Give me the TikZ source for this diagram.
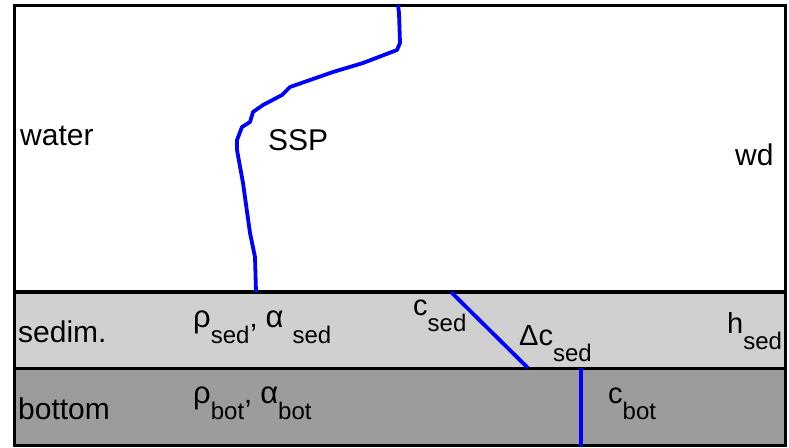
\documentclass[tikz,border=0pt]{standalone}
\usepackage{fontspec}
\setmainfont{Liberation Sans}
\newcommand\lsub[1]{\raisebox{-16pt}{\fontsize{24}{24}\selectfont #1}}
\newcommand\grk[1]{{\fontsize{31}{32}\selectfont #1}}
\definecolor{sedgray}{HTML}{D0D0D0}
\definecolor{botgray}{HTML}{9C9C9C}
\begin{document}
\begin{tikzpicture}[x=1pt,y=-1pt,
  lbl/.style={anchor=base west,inner sep=0pt,font=\fontsize{30}{34}\selectfont},
  par/.style={anchor=base west,inner sep=0pt,font=\fontsize{29}{32}\selectfont},
  frame/.style={draw=black,line width=3pt},
  prof/.style={draw=blue,line width=3.8pt,line join=round,line cap=butt}]
\useasboundingbox (0,0) rectangle (789,447);
\fill[white] (0,0) rectangle (789,447);
% layers
\fill[sedgray] (14,292) rectangle (785,368);
\fill[botgray] (14,368) rectangle (785,445);
\draw[frame] (14,5) rectangle (785,445);
\draw[frame] (14,368) -- (785,368);
\draw[draw=black,line width=4.5pt] (14,292) -- (785,292);
% sound speed profile
\draw[prof] (398,5) -- (399,13) -- (400,43) -- (397,50) -- (363,63) -- (333,72)
  -- (290,87) -- (282,95) -- (263,105) -- (253,112) -- (250,122) -- (242,127)
  -- (237,140) -- (237,150) -- (243,183) -- (250,233) -- (255,257) -- (256,292);
\coordinate (cs1) at (451,292);
\coordinate (cs2) at (528,368);
\coordinate (cb1) at (581,368);
\coordinate (cb2) at (581,447);
\draw[prof] (cs1) -- (cs2);
\draw[prof] (cb1) -- (cb2);
% labels
\node[lbl] (water) at (20,145) {water};
\node[lbl] (ssp) at (268,150) {SSP};
\node[lbl] (wd) at (735,165) {wd};
\node[lbl] (sedim) at (18,342) {sedim.};
\node[lbl] (bottom) at (18,419) {bottom};
\node[par] (rhosed) at (193,327) {\grk{ρ}\lsub{sed}, \grk{α}\hspace{9pt}\lsub{sed}};
\node[par] (rhobot) at (193,403) {\grk{ρ}\lsub{bot}, \grk{α}\lsub{bot}};
\node[par] (csed) at (413,315) {c\lsub{sed}};
\node[par] (dcsed) at (519,345) {Δc\lsub{sed}};
\node[par] (cbot) at (608,403) {c\lsub{bot}};
\node[par] (hsed) at (727,333) {h\lsub{sed}};
\end{tikzpicture}
\end{document}
